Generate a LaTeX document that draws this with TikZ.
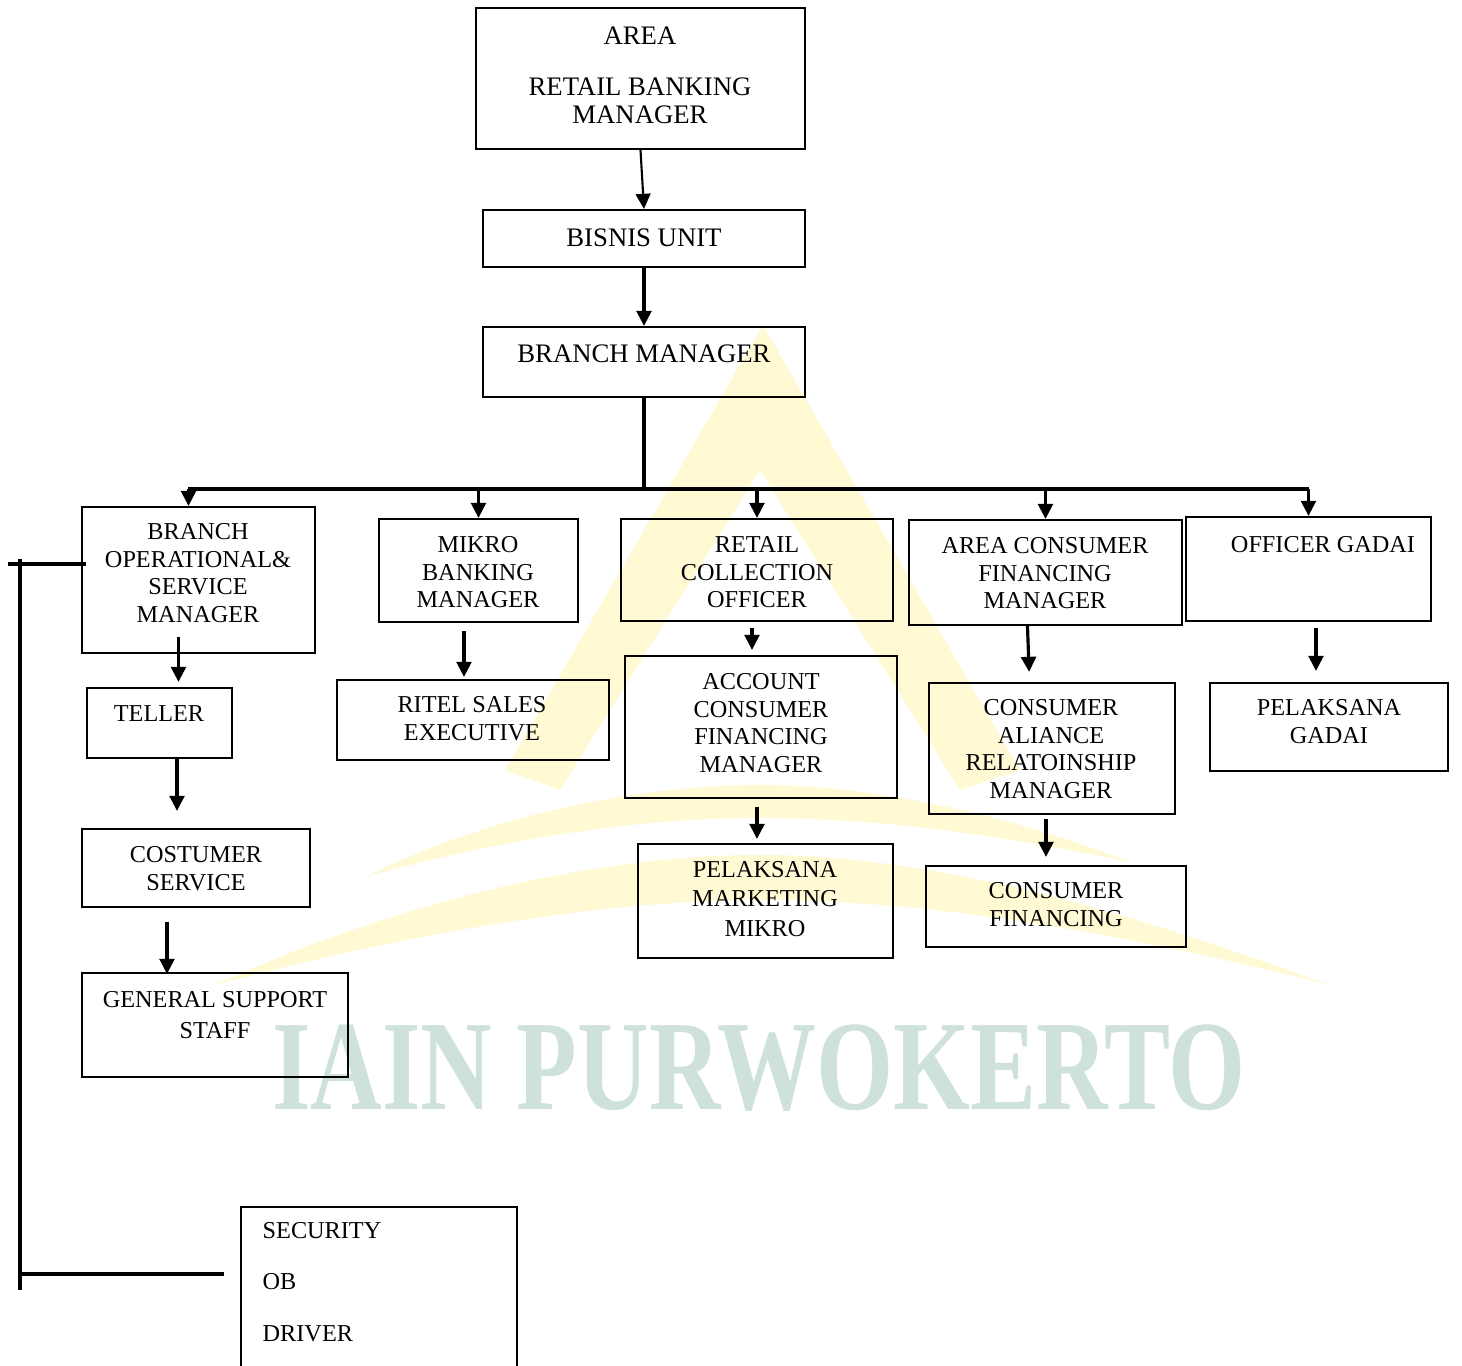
\documentclass[tikz,border=0pt]{standalone}
\usepackage{fontspec}
\setmainfont{Liberation Serif}
\usetikzlibrary{arrows.meta,fit}

\definecolor{wmgreen}{RGB}{206,226,217}
\definecolor{wmyellow}{RGB}{255,249,212}

\tikzset{
  box/.style={draw, line width=0.6pt, inner sep=0pt},
  lbl/.style={align=center, inner sep=0pt, anchor=north, font=\fontsize{6.9}{7.85}\selectfont},
  biglbl/.style={lbl, font=\fontsize{7.6}{7.85}\selectfont},
  arr/.style={line width=0.9pt, -{Triangle[length=4.3pt,width=4.2pt]}},
  bus/.style={line width=1.1pt},
}

\begin{document}
\begin{tikzpicture}[x=0.01cm, y=-0.01cm]

    \useasboundingbox (0,0) rectangle (1462,1366);

    % watermark
    \fill[wmyellow] (763,325) -- (1020,770) -- (960,790) -- (760,470) -- (560,790) -- (505,770) -- cycle;
    \fill[wmyellow] (365,877) .. controls (500,810) and (650,785) .. (760,785)
        .. controls (900,785) and (1050,830) .. (1130,862)
        .. controls (1000,835) and (880,818) .. (760,818)
        .. controls (620,818) and (480,845) .. (365,877) -- cycle;
    \fill[wmyellow] (215,985) .. controls (400,900) and (600,855) .. (760,855)
        .. controls (950,855) and (1150,920) .. (1330,985)
        .. controls (1150,940) and (950,900) .. (760,900)
        .. controls (600,900) and (400,935) .. (215,985) -- cycle;
    \node[inner sep=0pt, text=wmgreen, font=\fontsize{36.4}{36}\selectfont\bfseries] (wm) at (759,1068)
        {\scalebox{0.774}[1]{IAIN PURWOKERTO}};

    % boxes
    \node[box, fit={(476,8) (805,149)}] (arbm) {};
    \node[box, fit={(483,210) (805,267)}] (bisnis) {};
    \node[box, fit={(483,327) (805,397)}] (bm) {};

    \node[box, fit={(82,507) (315,653)}] (bosm) {};
    \node[box, fit={(379,519) (578,622)}] (mbm) {};
    \node[box, fit={(621,519) (893,621)}] (rco) {};
    \node[box, fit={(909,520) (1182,625)}] (acfm) {};
    \node[box, fit={(1186,517) (1431,621)}] (og) {};

    \node[box, fit={(87,688) (232,758)}] (teller) {};
    \node[box, fit={(337,680) (609,760)}] (rse) {};
    \node[box, fit={(625,656) (897,798)}] (acm) {};
    \node[box, fit={(929,683) (1175,814)}] (carm) {};
    \node[box, fit={(1210,683) (1448,771)}] (pg) {};

    \node[box, fit={(82,829) (310,907)}] (cs) {};
    \node[box, fit={(638,844) (893,958)}] (pmm) {};
    \node[box, fit={(926,866) (1186,947)}] (cf) {};
    \node[box, fit={(82,973) (348,1077)}] (gss) {};
    \node[box, fit={(241,1207) (517,1380)}] (sod) {};

    % texts
    \node[biglbl] (tarea) at (640,26) {AREA};
    \node[biglbl] (tarbm) at (640,77) {RETAIL BANKING\\MANAGER};
    \node[biglbl] (tbisnis) at (644,228) {BISNIS UNIT};
    \node[biglbl] (tbm) at (644,344) {BRANCH MANAGER};
    \node[lbl] (tbosm) at (198,523) {BRANCH\\OPERATIONAL\&\\SERVICE\\MANAGER};
    \node[lbl] (tmbm) at (478,536) {MIKRO\\BANKING\\MANAGER};
    \node[lbl] (trco) at (757,536) {RETAIL\\COLLECTION\\OFFICER};
    \node[lbl] (tacfm) at (1045,537) {AREA CONSUMER\\FINANCING\\MANAGER};
    \node[lbl] (tog) at (1323,536) {OFFICER GADAI};
    \node[lbl] (tteller) at (159,705) {TELLER};
    \node[lbl] (trse) at (472,696) {RITEL SALES\\EXECUTIVE};
    \node[lbl] (tacm) at (761,673) {ACCOUNT\\CONSUMER\\FINANCING\\MANAGER};
    \node[lbl] (tcarm) at (1051,699) {CONSUMER\\ALIANCE\\RELATOINSHIP\\MANAGER};
    \node[lbl] (tpg) at (1329,699) {PELAKSANA\\GADAI};
    \node[lbl] (tcs) at (196,846) {COSTUMER\\SERVICE};
    \node[lbl] (tpmm) at (765,861) {PELAKSANA\\[0.1mm]MARKETING\\[0.3mm]MIKRO};
    \node[lbl] (tcf) at (1056,882) {CONSUMER\\FINANCING};
    \node[lbl] (tgss) at (215,991) {GENERAL SUPPORT\\[0.35mm]STAFF};
    \node[lbl, anchor=west] (tsec) at (262,1231) {SECURITY};
    \node[lbl, anchor=west] (tob) at (262,1282) {OB};
    \node[lbl, anchor=west] (tdrv) at (262,1334) {DRIVER};

    % top chain
    \draw[arr, line width=0.6pt] (arbm.south) -- (bisnis.north);
    \draw[arr] (bisnis.south) -- (bm.north);

    % bus to the managers
    \coordinate (bar) at (641,489);
    \draw[bus] (bm.south) -- (bm.south |- bar);
    \draw[bus] ([xshift=-1mm]bosm.north |- bar) -- (og.north |- bar);
    \draw[arr] ([xshift=-1mm]bosm.north |- bar) -- ([xshift=-1mm]bosm.north);
    \foreach \n in {mbm,rco,acfm,og}
        \draw[arr] (\n.north |- bar) -- (\n.north);

    % left bracket
    \coordinate (lt) at (8,564);
    \coordinate (ltop) at (20,559);
    \coordinate (lbot) at (20,1290);
    \coordinate (lj) at (20,1274);
    \coordinate (sj) at (224,1274);
    \draw[bus] (lt) -- ([xshift=0.5mm]bosm.west |- lt);
    \draw[bus] (ltop) -- (lbot);
    \draw[bus] (lj) -- (sj);

    % lower arrows
    \draw[arr, shorten <=-1.7mm, shorten >=0.5mm] ([xshift=-2mm]bosm.south) -- ([xshift=-2mm]bosm.south |- teller.north);
    \draw[arr, shorten >=1.7mm] ([xshift=1.75mm]teller.south) -- ([xshift=1.75mm]teller.south |- cs.north);
    \draw[arr, shorten <=1.4mm, shorten >=-0.2mm] ([xshift=-2.9mm]cs.south) -- ([xshift=-2.9mm]cs.south |- gss.north);
    \draw[arr, shorten <=0.8mm, shorten >=0.2mm] ([xshift=-1.45mm]mbm.south) -- ([xshift=-1.45mm]mbm.south |- rse.north);
    \draw[arr, shorten <=0.6mm, shorten >=0.5mm] ([xshift=-0.5mm]rco.south) -- ([xshift=-0.5mm]rco.south |- acm.north);
    \draw[arr, shorten <=0.8mm, shorten >=0.4mm] ([xshift=-0.4mm]acm.south) -- ([xshift=-0.4mm]acm.south |- pmm.north);
    \draw[arr, shorten >=1mm] ([xshift=-1.8mm]acfm.south) -- ([xshift=-1.6mm]acfm.south |- carm.north);
    \draw[arr, shorten <=0.4mm, shorten >=0.8mm] ([xshift=-0.6mm]carm.south) -- ([xshift=-0.6mm]carm.south |- cf.north);
    \draw[arr, shorten <=0.6mm, shorten >=1.1mm] ([xshift=0.75mm]og.south) -- ([xshift=0.75mm]og.south |- pg.north);

\end{tikzpicture}
\end{document}
